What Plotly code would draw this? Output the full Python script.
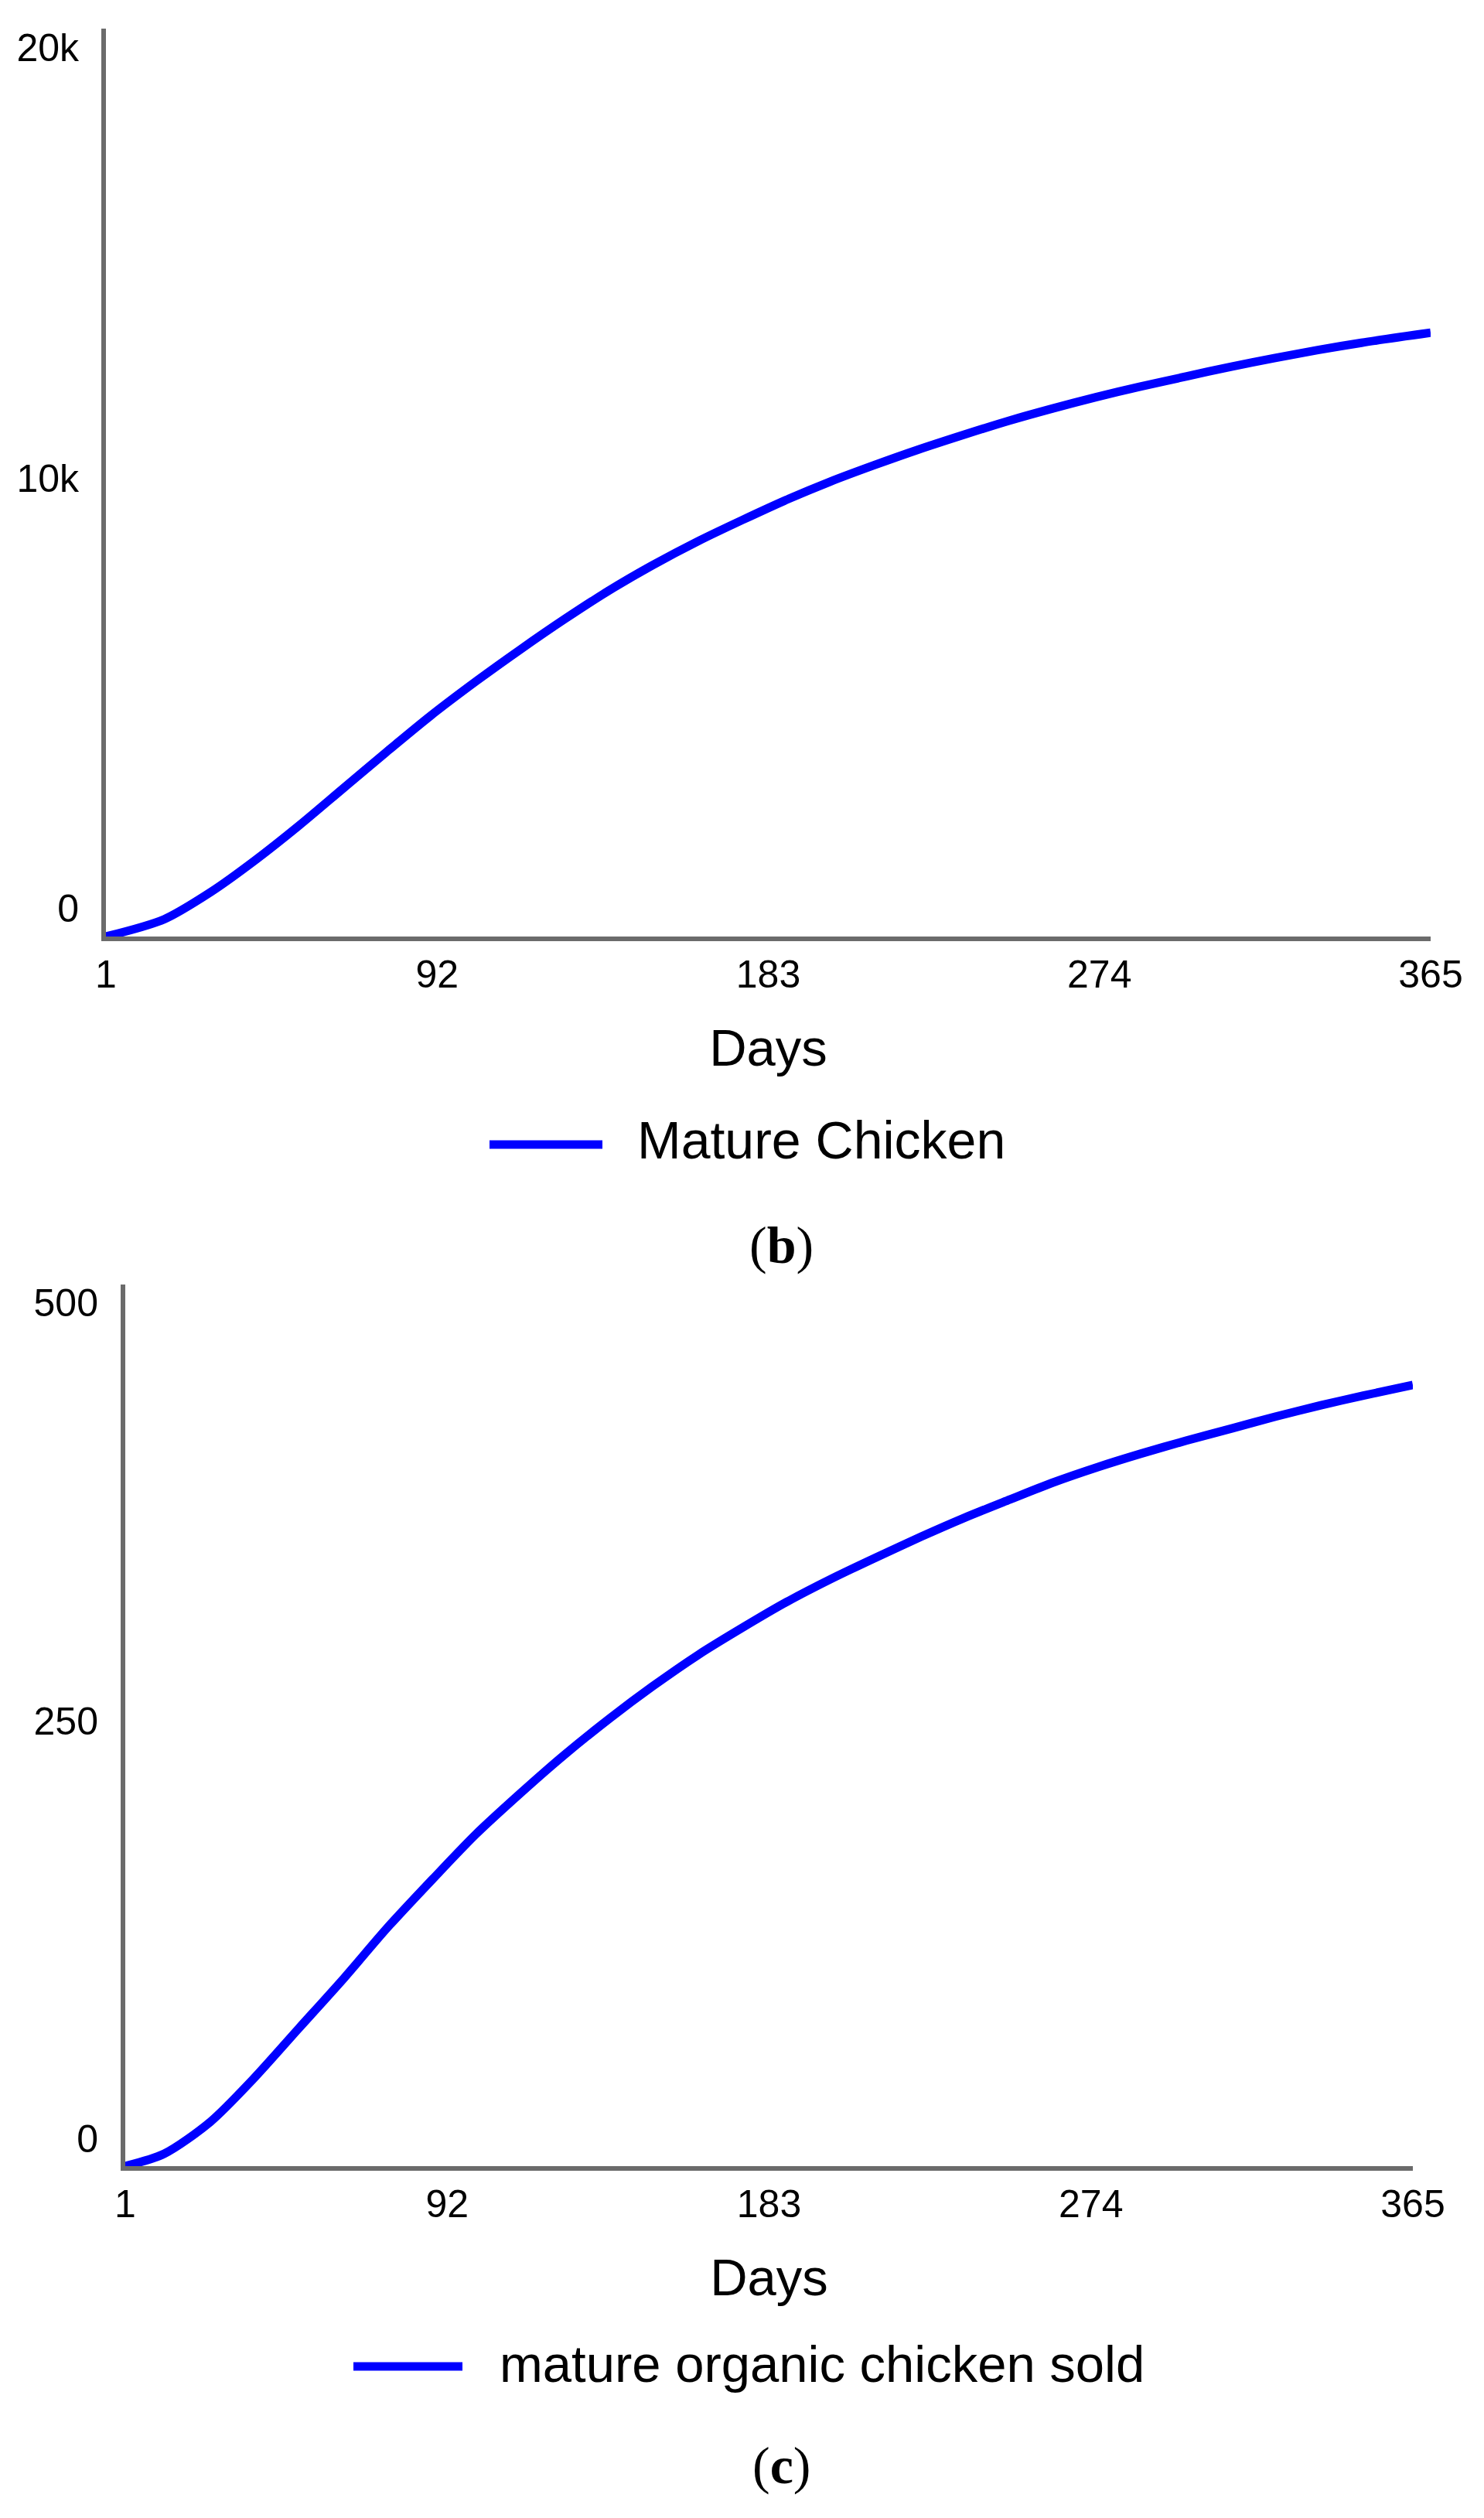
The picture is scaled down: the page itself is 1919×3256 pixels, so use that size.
import plotly.graph_objects as go

# ---- data ----
days_b = [1, 17, 30, 42, 54, 66, 78, 90, 103, 115, 127, 139, 151, 164, 176, 188, 200,
          212, 224, 237, 249, 261, 273, 285, 298, 310, 322, 334, 346, 365]
mature_chicken = [0, 380, 990, 1680, 2440, 3250, 4060, 4850, 5640, 6330, 6990, 7610, 8170,
                  8720, 9180, 9620, 10020, 10380, 10720, 11060, 11360, 11630, 11880, 12110,
                  12340, 12550, 12740, 12920, 13080, 13300]

days_c = [1, 12, 25, 37, 50, 63, 75, 88, 100, 113, 125, 138, 150, 163, 176, 188, 201, 213,
          226, 238, 251, 263, 276, 288, 301, 314, 326, 339, 351, 365]
organic_sold = [0, 7, 25, 49, 78, 107, 135, 163, 188, 212, 233, 254, 272, 290, 306, 320,
                333.5, 345, 357, 367.5, 378, 387.5, 396.5, 404, 411.5, 418.5, 425, 431.5,
                437, 443]

x_ticks = [1, 92, 183, 274, 365]
y_ticks_b = [0, 10000, 20000]
y_text_b = ["0", "10k", "20k"]
y_ticks_c = [0, 250, 500]
y_text_c = ["0", "250", "500"]

name_b = "Mature Chicken"
name_c = "mature organic chicken sold"
panel_b = "(<b>b</b>)"
panel_c = "(<b>c</b>)"

BLUE = "#0000ff"
AXIS = "#6b6b6b"
SANS = "Liberation Sans, Arial, sans-serif"
SERIF = "Liberation Serif, Times New Roman, serif"
W, H = 1919, 3256

# label placement offsets (fraction of range), Stella-style labels kept inside the axis
label_shift = [0.031, 0.005, -0.021]


def shifted(vals, top):
    return [v + s * top for v, s in zip(vals, label_shift)]


fig = go.Figure()
fig.add_trace(go.Scatter(x=days_b, y=mature_chicken, mode="lines", name=name_b,
                         line=dict(color=BLUE, width=11, shape="spline", smoothing=0.8),
                         xaxis="x", yaxis="y", showlegend=False))
fig.add_trace(go.Scatter(x=days_c, y=organic_sold, mode="lines", name=name_c,
                         line=dict(color=BLUE, width=11, shape="spline", smoothing=0.8),
                         xaxis="x2", yaxis="y2", showlegend=False))


def px_x(p):
    return p / W


def px_y(p):
    return 1 - p / H


xcommon = dict(range=[1, 365], tickvals=x_ticks, ticktext=[str(t) for t in x_ticks],
               showline=True, linecolor=AXIS, linewidth=6, showgrid=False, zeroline=False,
               ticks="", ticklen=0, tickfont=dict(family=SANS, size=50, color="black"),
               ticklabelstandoff=0, layer="below traces", automargin=False,
               title=dict(text="Days", font=dict(family=SANS, size=67, color="black"), standoff=46))
ycommon = dict(showline=True, linecolor=AXIS, linewidth=6, showgrid=False, zeroline=False,
               ticks="", ticklen=0, tickfont=dict(family=SANS, size=50, color="black"),
               ticklabelstandoff=19, layer="below traces", automargin=False)

fig.update_layout(
    width=W, height=H, margin=dict(l=0, r=0, t=0, b=0, autoexpand=False),
    paper_bgcolor="white", plot_bgcolor="white",
    xaxis=dict(domain=[px_x(137), px_x(1850)], anchor="y", **xcommon),
    yaxis=dict(domain=[px_y(1211), px_y(37)], anchor="x", range=[0, 20000],
               tickvals=shifted(y_ticks_b, 20000), ticktext=y_text_b, **ycommon),
    xaxis2=dict(domain=[px_x(162), px_x(1827)], anchor="y2", **xcommon),
    yaxis2=dict(domain=[px_y(2801), px_y(1661)], anchor="x2", range=[0, 500],
                tickvals=shifted(y_ticks_c, 500), ticktext=y_text_c, **ycommon),
    showlegend=False,
)

# legends (long line key + label) and panel captions
shapes = [
    dict(type="line", xref="paper", yref="paper", x0=px_x(633), x1=px_x(779),
         y0=px_y(1480), y1=px_y(1480), line=dict(color=BLUE, width=11)),
    dict(type="line", xref="paper", yref="paper", x0=px_x(457), x1=px_x(598),
         y0=px_y(3060), y1=px_y(3060), line=dict(color=BLUE, width=11)),
]
annotations = [
    dict(text=name_b, xref="paper", yref="paper", x=px_x(822), y=px_y(1474),
         xanchor="left", yanchor="middle", showarrow=False,
         font=dict(family=SANS, size=68, color="black")),
    dict(text=name_c, xref="paper", yref="paper", x=px_x(644), y=px_y(3056),
         xanchor="left", yanchor="middle", showarrow=False,
         font=dict(family=SANS, size=67, color="black")),
    dict(text=panel_b, xref="paper", yref="paper", x=px_x(1011), y=px_y(1610),
         xanchor="center", yanchor="middle", showarrow=False,
         font=dict(family=SERIF, size=68, color="black")),
    dict(text=panel_c, xref="paper", yref="paper", x=px_x(1011), y=px_y(3188),
         xanchor="center", yanchor="middle", showarrow=False,
         font=dict(family=SERIF, size=68, color="black")),
]
fig.update_layout(shapes=shapes, annotations=annotations)

fig.write_html("out.html", config={"displayModeBar": False},
               post_script="document.body.style.margin='0';")
